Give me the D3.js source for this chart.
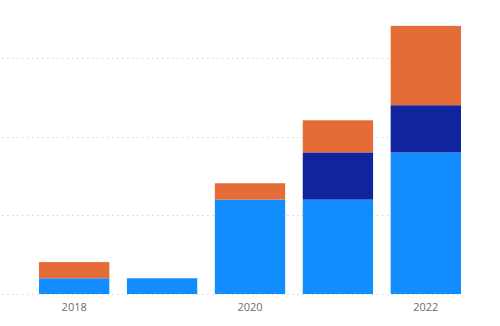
<!DOCTYPE html>
<html>
<head>
<meta charset="utf-8">
<script src="https://cdn.jsdelivr.net/npm/d3@7"></script>
<style>
  html, body { margin: 0; padding: 0; background: #ffffff; }
  svg { display: block; }
</style>
</head>
<body>
<svg id="chart" width="500" height="326"></svg>
<script>
// Categories and stacked series values
const years = ["2018", "2019", "2020", "2021", "2022"];
const seriesA = [10, 10, 60, 60, 90];   // light blue (bottom)
const seriesB = [0, 0, 0, 30, 30];      // dark blue (middle)
const seriesC = [10.3, 0, 10.4, 20.4, 50.4]; // orange (top)
const gridValues = [0, 50, 100, 150];
const tickLabels = ["2018", "2020", "2022"];

const seriesKeys = ["A", "B", "C"];
const colors = { A: "#118DFF", B: "#12239E", C: "#E66C37" };

const rows = years.map((y, i) => ({ year: y, A: seriesA[i], B: seriesB[i], C: seriesC[i] }));

const svg = d3.select("#chart");
const plot = { left: 2, right: 461, top: 20, bottom: 294 };

const x = d3.scaleBand()
  .domain(years)
  .range([39, 461])
  .paddingInner(0.2)
  .paddingOuter(0);

const y = d3.scaleLinear()
  .domain([0, 150])
  .range([294, 58]);

// Dotted horizontal gridlines
svg.append("g")
  .selectAll("line")
  .data(gridValues)
  .join("line")
  .attr("x1", plot.left)
  .attr("x2", plot.right)
  .attr("y1", d => Math.round(y(d)) + 0.5)
  .attr("y2", d => Math.round(y(d)) + 0.5)
  .attr("stroke", "#D6D5D3")
  .attr("stroke-width", 1)
  .attr("stroke-dasharray", "1.5,3.5");

// Stacked bars
const stacked = d3.stack().keys(seriesKeys)(rows);

svg.append("g")
  .selectAll("g")
  .data(stacked)
  .join("g")
  .attr("fill", d => colors[d.key])
  .selectAll("rect")
  .data(d => d.filter(p => p[1] - p[0] > 0))
  .join("rect")
  .attr("x", d => x(d.data.year))
  .attr("width", x.bandwidth())
  .attr("y", d => y(d[1]))
  .attr("height", d => y(d[0]) - y(d[1]));

// X axis labels (every other year)
const xAxis = d3.axisBottom(x)
  .tickValues(tickLabels)
  .tickSize(0)
  .tickPadding(9);

const gx = svg.append("g")
  .attr("transform", `translate(0,${plot.bottom})`)
  .call(xAxis);
gx.select(".domain").remove();
gx.selectAll("text")
  .attr("fill", "#6E6C6A")
  .style("font-family", "'Segoe UI', 'Open Sans', 'Noto Sans', sans-serif")
  .style("font-size", "11px");
</script>
</body>
</html>
